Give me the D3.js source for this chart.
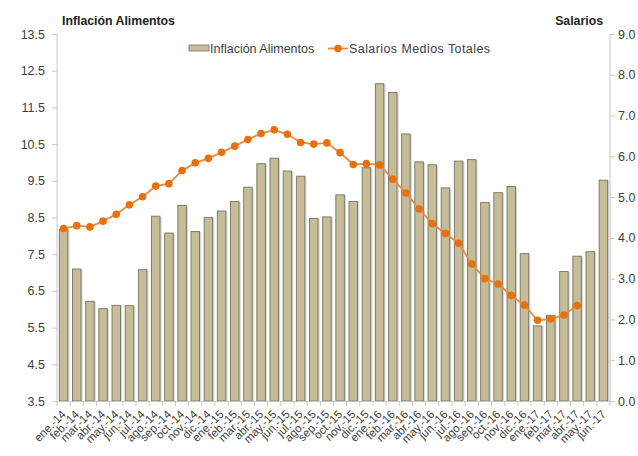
<!DOCTYPE html>
<html>
<head>
<meta charset="utf-8">
<script src="https://cdn.jsdelivr.net/npm/d3@7"></script>
<style>
  html, body { margin: 0; padding: 0; background: #fff; }
  svg { display: block; font-family: "Liberation Sans", Arial, sans-serif; }
</style>
</head>
<body>
<svg id="chart" width="638" height="456"></svg>
<script>
// Monthly categories, Jan 2014 – Jun 2017
const months = [
  "ene.-14","feb.-14","mar.-14","abr.-14","may.-14","jun.-14","jul.-14","ago.-14","sep.-14","oct.-14","nov.-14","dic.-14",
  "ene.-15","feb.-15","mar.-15","abr.-15","may.-15","jun.-15","jul.-15","ago.-15","sep.-15","oct.-15","nov.-15","dic.-15",
  "ene.-16","feb.-16","mar.-16","abr.-16","may.-16","jun.-16","jul.-16","ago.-16","sep.-16","oct.-16","nov.-16","dic.-16",
  "ene.-17","feb.-17","mar.-17","abr.-17","may.-17","jun.-17"
];

// Food inflation (left axis, bars)
const inflacionAlimentos = [
  8.19, 7.11, 6.23, 6.03, 6.12, 6.11, 7.09, 8.55, 8.09, 8.84, 8.13, 8.51,
  8.69, 8.95, 9.34, 9.98, 10.13, 9.78, 9.64, 8.49, 8.53, 9.13, 8.95, 9.87,
  12.16, 11.92, 10.79, 10.03, 9.95, 9.32, 10.05, 10.09, 8.92, 9.19, 9.36, 7.53,
  5.56, 5.85, 7.04, 7.46, 7.58, 9.53
];

// Average total wages (right axis, line); last two months not yet available
const salariosMedios = [
  4.23, 4.30, 4.27, 4.41, 4.58, 4.81, 5.01, 5.27, 5.33, 5.65, 5.84, 5.95,
  6.10, 6.25, 6.41, 6.56, 6.65, 6.54, 6.34, 6.30, 6.33, 6.09, 5.80, 5.82,
  5.79, 5.44, 5.10, 4.71, 4.35, 4.11, 3.87, 3.36, 3.00, 2.87, 2.59, 2.35,
  1.98, 2.01, 2.11, 2.34, null, null
];

const leftTicks = [3.5, 4.5, 5.5, 6.5, 7.5, 8.5, 9.5, 10.5, 11.5, 12.5, 13.5];
const rightTicks = [0, 1, 2, 3, 4, 5, 6, 7, 8, 9];

const svg = d3.select("#chart");
const plot = { left: 57, right: 610, top: 34, bottom: 401 };

const x = d3.scaleBand().domain(months).range([plot.left, plot.right]).paddingInner(0.28).paddingOuter(0.14);
const yL = d3.scaleLinear().domain([3.5, 13.5]).range([plot.bottom, plot.top]);
const yR = d3.scaleLinear().domain([0, 9]).range([plot.bottom, plot.top]);

const axisColor = "#c8c8c8";
const textColor = "#404040";
const barFill = "#c5bd97";
const barStroke = "#77735f";
const orange = "#e8700e";

// Bars with a faint drop shadow
svg.append("g").selectAll("rect.shadow")
  .data(months)
  .join("rect")
  .attr("x", d => x(d) + 1.2)
  .attr("y", (d, i) => yL(inflacionAlimentos[i]) + 1)
  .attr("width", x.bandwidth())
  .attr("height", (d, i) => plot.bottom - yL(inflacionAlimentos[i]) - 1)
  .attr("fill", "#d9d9d9");

svg.append("g").selectAll("rect.bar")
  .data(months)
  .join("rect")
  .attr("x", d => x(d) + 0.5)
  .attr("y", (d, i) => yL(inflacionAlimentos[i]) + 0.5)
  .attr("width", x.bandwidth() - 1)
  .attr("height", (d, i) => plot.bottom - yL(inflacionAlimentos[i]) - 0.5)
  .attr("fill", barFill)
  .attr("stroke", barStroke)
  .attr("stroke-width", 0.9);

// Left axis
const gL = svg.append("g").attr("transform", `translate(${plot.left},0)`)
  .call(d3.axisLeft(yL).tickValues(leftTicks).tickFormat(d3.format(".1f")).tickSize(5).tickPadding(7));
// Right axis
const gR = svg.append("g").attr("transform", `translate(${plot.right},0)`)
  .call(d3.axisRight(yR).tickValues(rightTicks).tickFormat(d3.format(".1f")).tickSize(5).tickPadding(3));

[gL, gR].forEach(g => {
  g.select(".domain").attr("stroke", axisColor).attr("d", `M0,${plot.top}V${plot.bottom}`);
  g.selectAll(".tick line").attr("stroke", axisColor);
  g.selectAll(".tick text").attr("fill", textColor).style("font-size", "12.5px").style("font-family", "Liberation Sans, Arial, sans-serif");
});

// Bottom axis: ticks at band boundaries
const gX = svg.append("g").attr("transform", `translate(0,${plot.bottom})`);
gX.append("line").attr("x1", plot.left).attr("x2", plot.right + 2).attr("y1", 0.5).attr("y2", 0.5).attr("stroke", axisColor);
const step = x.step();
const bounds = d3.range(months.length + 1).map(i => plot.left + i * step);
gX.selectAll("line.tk").data(bounds).join("line")
  .attr("x1", d => d).attr("x2", d => d).attr("y1", 0).attr("y2", 5)
  .attr("stroke", axisColor);
gX.selectAll("text").data(months).join("text")
  .attr("transform", d => `translate(${x(d) + x.bandwidth() / 2 + 3},${14}) rotate(-45)`)
  .attr("text-anchor", "end")
  .attr("fill", textColor)
  .style("font-size", "11.5px")
  .text(d => d);

// Wage line with markers
const pts = months.map((m, i) => ({ m, v: salariosMedios[i] })).filter(p => p.v != null);
const line = d3.line().x(p => x(p.m) + x.bandwidth() / 2).y(p => yR(p.v));
svg.append("path").datum(pts)
  .attr("d", line).attr("fill", "none").attr("stroke", "#ef8a3a").attr("stroke-width", 1.8);
svg.append("g").selectAll("circle").data(pts).join("circle")
  .attr("cx", p => x(p.m) + x.bandwidth() / 2)
  .attr("cy", p => yR(p.v))
  .attr("r", 3.8)
  .attr("fill", orange);

// Axis titles
svg.append("text").attr("x", 62).attr("y", 25).attr("font-weight", "bold").attr("fill", "#222")
  .style("font-size", "12.3px").text("Inflación Alimentos");
svg.append("text").attr("x", 603).attr("y", 25).attr("text-anchor", "end").attr("font-weight", "bold").attr("fill", "#222")
  .style("font-size", "12.3px").text("Salarios");

// Legend
const lg = svg.append("g");
lg.append("rect").attr("x", 189).attr("y", 45).attr("width", 20).attr("height", 6)
  .attr("fill", barFill).attr("stroke", barStroke).attr("stroke-width", 0.8);
lg.append("text").attr("x", 210).attr("y", 53).attr("fill", textColor).style("font-size", "12.5px").text("Inflación Alimentos");
lg.append("line").attr("x1", 328).attr("x2", 348).attr("y1", 48.5).attr("y2", 48.5).attr("stroke", "#ef8a3a").attr("stroke-width", 1.8);
lg.append("circle").attr("cx", 338).attr("cy", 48.5).attr("r", 3.8).attr("fill", orange);
lg.append("text").attr("x", 349).attr("y", 53).attr("fill", textColor).style("font-size", "12.5px")
  .attr("textLength", 141).text("Salarios Medios Totales");
</script>
</body>
</html>
